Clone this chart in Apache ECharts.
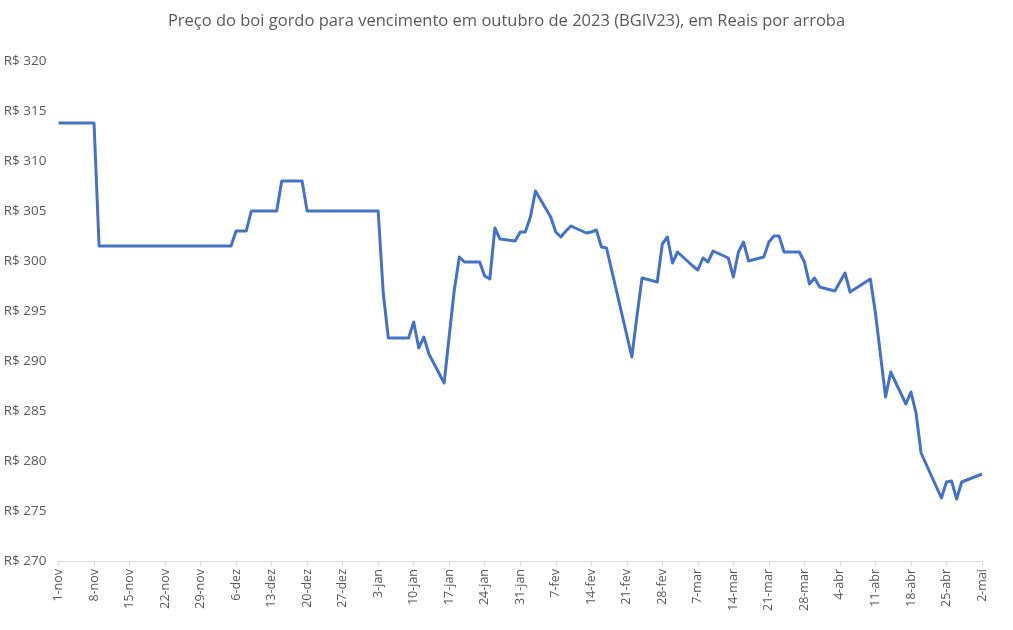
<!DOCTYPE html>
<html>
<head>
<meta charset="utf-8">
<script src="https://cdn.jsdelivr.net/npm/echarts@6/dist/echarts.min.js"></script>
<style>html,body{margin:0;padding:0;background:#fff}#c{width:1013px;height:630px}</style>
</head>
<body>
<div id="c"></div>
<script>
// Trading days (YYYY-MM-DD) and settlement prices (R$/arroba)
var dates = [
 "2022-11-01","2022-11-03","2022-11-04","2022-11-07","2022-11-08","2022-11-09","2022-11-10","2022-11-11",
 "2022-11-14","2022-11-16","2022-11-17","2022-11-18","2022-11-21","2022-11-22","2022-11-23","2022-11-24",
 "2022-11-25","2022-11-28","2022-11-29","2022-11-30","2022-12-01","2022-12-02","2022-12-05","2022-12-06",
 "2022-12-07","2022-12-08","2022-12-09","2022-12-12","2022-12-13","2022-12-14","2022-12-15","2022-12-16",
 "2022-12-19","2022-12-20","2022-12-21","2022-12-22","2022-12-23","2022-12-26","2022-12-27","2022-12-28",
 "2022-12-29","2023-01-02","2023-01-03","2023-01-04","2023-01-05","2023-01-06","2023-01-09","2023-01-10",
 "2023-01-11","2023-01-12","2023-01-13","2023-01-16","2023-01-17","2023-01-18","2023-01-19","2023-01-20",
 "2023-01-23","2023-01-24","2023-01-25","2023-01-26","2023-01-27","2023-01-30","2023-01-31","2023-02-01",
 "2023-02-02","2023-02-03","2023-02-06","2023-02-07","2023-02-08","2023-02-09","2023-02-10","2023-02-13",
 "2023-02-14","2023-02-15","2023-02-16","2023-02-17","2023-02-22","2023-02-23","2023-02-24","2023-02-27",
 "2023-02-28","2023-03-01","2023-03-02","2023-03-03","2023-03-06","2023-03-07","2023-03-08","2023-03-09",
 "2023-03-10","2023-03-13","2023-03-14","2023-03-15","2023-03-16","2023-03-17","2023-03-20","2023-03-21",
 "2023-03-22","2023-03-23","2023-03-24","2023-03-27","2023-03-28","2023-03-29","2023-03-30","2023-03-31",
 "2023-04-03","2023-04-04","2023-04-05","2023-04-06","2023-04-10","2023-04-11","2023-04-12","2023-04-13",
 "2023-04-14","2023-04-17","2023-04-18","2023-04-19","2023-04-20","2023-04-24","2023-04-25","2023-04-26",
 "2023-04-27","2023-04-28","2023-05-02"
];
var prices = [
 313.8,313.8,313.8,313.8,313.8,301.5,301.5,301.5,
 301.5,301.5,301.5,301.5,301.5,301.5,301.5,301.5,
 301.5,301.5,301.5,301.5,301.5,301.5,301.5,303.0,
 303.0,303.0,305.0,305.0,305.0,305.0,308.0,308.0,
 308.0,305.0,305.0,305.0,305.0,305.0,305.0,305.0,
 305.0,305.0,305.0,296.8,292.3,292.3,292.3,293.9,
 291.3,292.4,290.7,287.8,292.5,297.1,300.4,299.9,
 299.9,298.5,298.2,303.3,302.2,302.0,302.9,302.9,
 304.4,307.0,304.4,302.9,302.4,303.0,303.5,302.8,
 302.9,303.1,301.4,301.3,290.4,294.5,298.3,297.9,
 301.7,302.4,299.8,300.9,299.5,299.1,300.3,299.9,
 301.0,300.3,298.4,300.9,301.9,300.0,300.4,301.9,
 302.5,302.5,300.9,300.9,299.9,297.7,298.3,297.4,
 297.0,297.9,298.8,296.9,298.2,294.8,290.6,286.4,
 288.9,285.7,286.9,284.8,280.8,276.3,277.9,278.0,
 276.2,277.9,278.7
];
var monthNames = ["jan","fev","mar","abr","mai","jun","jul","ago","set","out","nov","dez"];
var yTicks = [270,275,280,285,290,295,300,305,310,315,320];
var titleText = "Preço do boi gordo para vencimento em outubro de 2023 (BGIV23), em Reais por arroba";

// Calendar-day categories for the date axis
var startDay = Date.UTC(2022,10,1), endDay = Date.UTC(2023,4,2);
var dayKeys = [], dayLabels = [];
for (var t = startDay; t <= endDay; t += 86400000) {
  var d = new Date(t);
  dayKeys.push(d.toISOString().slice(0,10));
  dayLabels.push(d.getUTCDate() + "-" + monthNames[d.getUTCMonth()]);
}
var priceMap = {};
dates.forEach(function(k,i){ priceMap[k] = prices[i]; });
var seriesData = dayKeys.map(function(k){ return priceMap.hasOwnProperty(k) ? priceMap[k] : null; });

var chart = echarts.init(document.getElementById('c'), null, {renderer:'canvas'});
var txt = '#595959';
var font = '"Open Sans", "Noto Sans", sans-serif';
chart.setOption({
  animation: false,
  backgroundColor: '#ffffff',
  title: {
    text: titleText, left: 'center', top: 8,
    textStyle: { color: txt, fontSize: 16.5, fontWeight: 'normal', fontFamily: font }
  },
  grid: { left: 58.5, right: 31, top: 61, bottom: 69 },
  xAxis: {
    type: 'category', data: dayLabels, boundaryGap: false,
    axisLine: { lineStyle: { color: '#d9d9d9', width: 1 } },
    axisTick: { show: true, interval: 6, length: 5, lineStyle: { color: '#d9d9d9' } },
    axisLabel: { interval: 6, rotate: 90, color: txt, fontSize: 12.5, fontFamily: font, margin: 8 },
    splitLine: { show: false }
  },
  yAxis: {
    type: 'value', min: yTicks[0], max: yTicks[yTicks.length-1], interval: 5,
    axisLine: { show: false }, axisTick: { show: false },
    splitLine: { show: false },
    axisLabel: { color: txt, fontSize: 13.5, fontFamily: font, margin: 12,
      formatter: function(v){ return 'R$ ' + v; } }
  },
  series: [{
    type: 'line', data: seriesData, connectNulls: true, showSymbol: false,
    lineStyle: { color: '#4472C4', width: 3, join: 'round' },
    itemStyle: { color: '#4472C4' }
  }]
});
</script>
</body>
</html>
